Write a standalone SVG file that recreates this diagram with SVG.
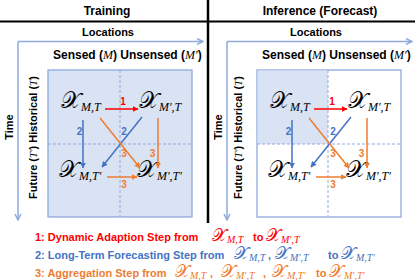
<svg xmlns="http://www.w3.org/2000/svg" width="415" height="280" viewBox="0 0 415 280">
<defs>
<style>
.hdr{font-family:'Liberation Sans',Arial,sans-serif;font-weight:bold;font-size:12px;text-anchor:middle;fill:#000}
.ax{font-family:'Liberation Sans',Arial,sans-serif;font-weight:bold;font-size:11px;fill:#000}
.ax2{font-family:'Liberation Sans',Arial,sans-serif;font-weight:bold;font-size:12px;fill:#000}
.mi{font-family:'Liberation Serif','DejaVu Serif',serif;font-style:italic;font-weight:normal}
.x{font-family:'DejaVu Serif','Liberation Serif',serif;font-size:23px;fill:#000}
.sub{font-family:'Liberation Serif','DejaVu Serif',serif;font-style:italic;font-size:12px}
.num{font-family:'Liberation Sans',Arial,sans-serif;font-weight:bold;font-size:10px;text-anchor:middle}
.leg{font-family:'Liberation Sans',Arial,sans-serif;font-weight:bold;font-size:11px}
.lx{font-family:'DejaVu Serif','Liberation Serif',serif;font-size:17px;font-weight:normal}
.ls{font-family:'Liberation Serif','DejaVu Serif',serif;font-style:italic;font-size:10px;font-weight:normal}
.box{stroke:#8faadc;stroke-width:1.3}
.dash{stroke:#8faadc;stroke-width:1;stroke-dasharray:3 2;fill:none}
.axis{stroke:#8faadc;stroke-width:1.5;fill:none}
.red{stroke:#ff0000;stroke-width:1.5;fill:none}
.blue{stroke:#4472c4;stroke-width:1.5;fill:none}
.org{stroke:#ed7d31;stroke-width:1.5;fill:none}
</style>
<marker id="aAx" viewBox="0 0 10 10" refX="9" refY="5" markerWidth="5" markerHeight="5" orient="auto"><path d="M1,1 L9,5 L1,9" fill="none" stroke="#8faadc" stroke-width="2"/></marker>
<marker id="aR" viewBox="0 0 10 10" refX="9" refY="5" markerWidth="4" markerHeight="4" orient="auto"><path d="M0,0 L10,5 L0,10 Z" fill="#ff0000"/></marker>
<marker id="aB" viewBox="0 0 10 10" refX="9" refY="5" markerWidth="4" markerHeight="4" orient="auto"><path d="M0,0 L10,5 L0,10 Z" fill="#4472c4"/></marker>
<marker id="aO" viewBox="0 0 10 10" refX="9" refY="5" markerWidth="4" markerHeight="4" orient="auto"><path d="M0,0 L10,5 L0,10 Z" fill="#ed7d31"/></marker>
</defs>
<rect width="415" height="280" fill="#fff"/>

<!-- frame -->
<g id="frame">
<line x1="0" y1="21.5" x2="415" y2="21.5" stroke="#000" stroke-width="2.2"/>
<line x1="208" y1="0" x2="208" y2="223" stroke="#000" stroke-width="2.5"/>
<text class="hdr" x="107" y="15">Training</text>
<text class="hdr" x="320" y="15">Inference (Forecast)</text>
</g>

<!-- LEFT PANEL -->
<g id="train-grid">
<rect class="box" x="48" y="70" width="144" height="147" fill="#dae3f3"/>
<line class="dash" x1="120" y1="70" x2="120" y2="217"/>
<line class="dash" x1="48" y1="144" x2="192" y2="144"/>
<line class="axis" x1="18" y1="41.5" x2="203" y2="41.5" marker-end="url(#aAx)"/>
<line class="axis" x1="18" y1="41.5" x2="18" y2="220" marker-end="url(#aAx)"/>
<text class="ax" x="108" y="36" text-anchor="middle">Locations</text>
<text class="ax2" x="53" y="59">Sensed (<tspan class="mi">M</tspan>) Unsensed (<tspan class="mi">M′</tspan>)</text>
<text class="ax" transform="translate(12.5,127) rotate(-90)" text-anchor="middle">Time</text>
<text class="ax" transform="translate(37,137.5) rotate(-90)" text-anchor="middle">Future (<tspan class="mi">T′</tspan>) Historical (<tspan class="mi">T</tspan>)</text>
</g>

<g id="train-x-mt"><text class="x" x="61" y="108">&#x1D4B3;<tspan class="sub" dy="3">M,T</tspan></text></g>
<g id="train-x-m2t"><text class="x" x="139" y="108">&#x1D4B3;<tspan class="sub" dy="3">M′,T</tspan></text></g>
<g id="train-x-mt2"><text class="x" x="59" y="177">&#x1D4B3;<tspan class="sub" dy="3">M,T′</tspan></text></g>
<g id="train-x-m2t2"><text class="x" x="137" y="177">&#x1D4B3;<tspan class="sub" dy="3">M′,T′</tspan></text></g>

<g id="train-connectors">
<line class="red" x1="105" y1="109" x2="138" y2="109" marker-end="url(#aR)"/>
<text class="num" x="123" y="105" fill="#ff0000">1</text>
<line class="blue" x1="83" y1="120" x2="83" y2="168" marker-end="url(#aB)"/>
<text class="num" x="79.5" y="135" fill="#4472c4">2</text>
<line class="blue" x1="142" y1="117" x2="102" y2="167" marker-end="url(#aB)"/>
<text class="num" x="124" y="135" fill="#4472c4">2</text>
<line class="org" x1="100" y1="118" x2="140" y2="168" marker-end="url(#aO)"/>
<text class="num" x="124" y="157" fill="#ed7d31">3</text>
<line class="org" x1="158" y1="118" x2="158" y2="168" marker-end="url(#aO)"/>
<text class="num" x="152.5" y="157" fill="#ed7d31">3</text>
<line class="org" x1="107" y1="177" x2="137" y2="177" marker-end="url(#aO)"/>
<text class="num" x="124" y="188" fill="#ed7d31">3</text>
</g>

<!-- RIGHT PANEL -->
<g id="infer-grid">
<rect class="box" x="257" y="70" width="144" height="147" fill="#fff"/>
<rect x="257.6" y="70.6" width="70.4" height="73.4" fill="#dae3f3"/>
<line class="dash" x1="328" y1="70" x2="328" y2="217"/>
<line class="dash" x1="257" y1="144" x2="401" y2="144"/>
<line class="axis" x1="227" y1="41.5" x2="412" y2="41.5" marker-end="url(#aAx)"/>
<line class="axis" x1="227" y1="41.5" x2="227" y2="220" marker-end="url(#aAx)"/>
<text class="ax" x="316" y="36" text-anchor="middle">Locations</text>
<text class="ax2" x="262" y="59">Sensed (<tspan class="mi">M</tspan>) Unsensed (<tspan class="mi">M′</tspan>)</text>
<text class="ax" transform="translate(222,127) rotate(-90)" text-anchor="middle">Time</text>
<text class="ax" transform="translate(242,137.5) rotate(-90)" text-anchor="middle">Future (<tspan class="mi">T′</tspan>) Historical (<tspan class="mi">T</tspan>)</text>
</g>

<g id="infer-x-mt"><text class="x" x="270" y="108">&#x1D4B3;<tspan class="sub" dy="3">M,T</tspan></text></g>
<g id="infer-x-m2t"><text class="x" x="348" y="108">&#x1D4B3;<tspan class="sub" dy="3">M′,T</tspan></text></g>
<g id="infer-x-mt2"><text class="x" x="268" y="177">&#x1D4B3;<tspan class="sub" dy="3">M,T′</tspan></text></g>
<g id="infer-x-m2t2"><text class="x" x="346" y="177">&#x1D4B3;<tspan class="sub" dy="3">M′,T′</tspan></text></g>

<g id="infer-connectors">
<line class="red" x1="314" y1="109" x2="347" y2="109" marker-end="url(#aR)"/>
<text class="num" x="332" y="105" fill="#ff0000">1</text>
<line class="blue" x1="292" y1="120" x2="292" y2="168" marker-end="url(#aB)"/>
<text class="num" x="288.5" y="135" fill="#4472c4">2</text>
<line class="blue" x1="351" y1="117" x2="311" y2="167" marker-end="url(#aB)"/>
<text class="num" x="333" y="135" fill="#4472c4">2</text>
<line class="org" x1="309" y1="118" x2="349" y2="168" marker-end="url(#aO)"/>
<text class="num" x="333" y="157" fill="#ed7d31">3</text>
<line class="org" x1="367" y1="118" x2="367" y2="168" marker-end="url(#aO)"/>
<text class="num" x="361.5" y="157" fill="#ed7d31">3</text>
<line class="org" x1="316" y1="177" x2="346" y2="177" marker-end="url(#aO)"/>
<text class="num" x="333" y="188" fill="#ed7d31">3</text>
</g>

<!-- LEGEND -->
<g id="legend">
<text class="leg" x="35" y="241" fill="#ff0000">1: Dynamic Adaption Step from <tspan x="212" class="lx">&#x1D4B3;</tspan><tspan class="ls" dy="2">M,T</tspan><tspan dy="-2" x="253">to</tspan><tspan class="lx" x="266">&#x1D4B3;</tspan><tspan class="ls" dy="2">M′,T</tspan></text>
<text class="leg" x="35" y="259" fill="#4472c4">2: Long-Term Forecasting Step from <tspan x="234" class="lx">&#x1D4B3;</tspan><tspan class="ls" dy="2">M,T</tspan><tspan dy="-2" x="268">,</tspan><tspan class="lx" x="275">&#x1D4B3;</tspan><tspan class="ls" dy="2">M′,T</tspan><tspan dy="-2" x="328">to</tspan><tspan class="lx" x="341">&#x1D4B3;</tspan><tspan class="ls" dy="2">M,T′</tspan></text>
<text class="leg" x="35" y="277" fill="#ed7d31">3: Aggregation Step from <tspan x="175" class="lx">&#x1D4B3;</tspan><tspan class="ls" dy="2">M,T</tspan><tspan dy="-2" x="210">,</tspan><tspan class="lx" x="221">&#x1D4B3;</tspan><tspan class="ls" dy="2">M′,T</tspan><tspan dy="-2" x="263">,</tspan><tspan class="lx" x="272">&#x1D4B3;</tspan><tspan class="ls" dy="2">M,T′</tspan><tspan dy="-2" x="316">to</tspan><tspan class="lx" x="329">&#x1D4B3;</tspan><tspan class="ls" dy="2">M′,T′</tspan></text>
</g>
</svg>
